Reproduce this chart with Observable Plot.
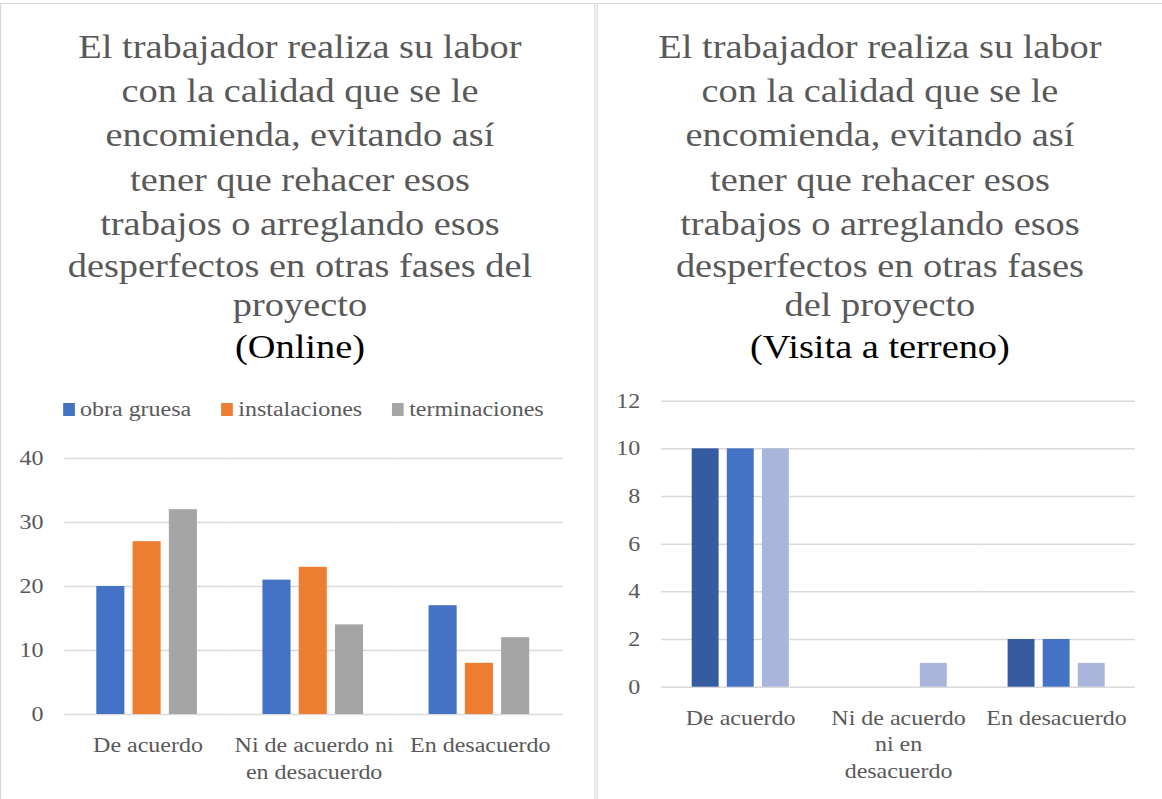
<!DOCTYPE html>
<html>
<head>
<meta charset="utf-8">
<script src="https://cdn.jsdelivr.net/npm/d3@7"></script>
<script src="https://cdn.jsdelivr.net/npm/@observablehq/plot@0.6"></script>
<style>
  html, body { margin: 0; padding: 0; background: #fff; overflow: hidden; }
  #wrap { position: relative; width: 993.2px; height: 799px; transform: scaleX(1.17); transform-origin: 0 0;
          font-family: "Liberation Serif", "Times New Roman", serif; }
  .panel { position: absolute; top: 2.6px; height: 830px; box-sizing: border-box;
           border: 1.6px solid #d9d9d9; border-bottom: none; }
  .tline { position: absolute; left: 0; right: 0; text-align: center; font-size: 32.8px; line-height: 32.8px;
           color: #595959; white-space: nowrap; }
  .tline.sub { color: #000; }
  .legend { position: absolute; font-size: 20.5px; line-height: 20.5px; color: #595959; white-space: nowrap; }
  .legend .item { display: inline-block; margin-right: 25.6px; }
  .legend .sw { display: inline-block; width: 10.3px; height: 12.7px; margin-right: 4.3px; vertical-align: baseline; }
  .chart { position: absolute; }
  .chart svg { overflow: visible; }
</style>
</head>
<body>
<div id="wrap">
  <div class="panel" style="left:0px; width:508.8px;"></div>
  <div class="panel" style="left:510px; width:500px;"></div>
  <div id="titleL" style="position:absolute; left:0; width:512.8px; top:0; height:400px;"></div>
  <div id="titleR" style="position:absolute; left:510.3px; width:483.6px; top:0; height:400px;"></div>
  <div id="legend" class="legend" style="left:53.8px; top:398.8px;"></div>
  <div id="chartL" class="chart" style="left:0px; top:440px;"></div>
  <div id="chartR" class="chart" style="left:510.3px; top:380px;"></div>
</div>
<script>
// ---- Data ----
const categories = ["De acuerdo", "Ni de acuerdo ni en desacuerdo", "En desacuerdo"];
const series = ["obra gruesa", "instalaciones", "terminaciones"];

// Online chart values (per category, in category order)
const onlineObraGruesa = [20, 21, 17];
const onlineInstalaciones = [27, 23, 8];
const onlineTerminaciones = [32, 14, 12];

// Visita a terreno chart values
const visitaObraGruesa = [10, 0, 2];
const visitaInstalaciones = [10, 0, 2];
const visitaTerminaciones = [10, 1, 1];

// Tick values
const onlineTicks = [0, 10, 20, 30, 40];
const visitaTicks = [0, 2, 4, 6, 8, 10, 12];

// Wrapped category labels as they appear under each chart
const onlineCategoryLabels = ["De acuerdo", "Ni de acuerdo ni\nen desacuerdo", "En desacuerdo"];
const visitaCategoryLabels = ["De acuerdo", "Ni de acuerdo\nni en\ndesacuerdo", "En desacuerdo"];

// Titles
const onlineTitleLines = [
  "El trabajador realiza su labor",
  "con la calidad que se le",
  "encomienda, evitando así",
  "tener que rehacer esos",
  "trabajos o arreglando esos",
  "desperfectos en otras fases del",
  "proyecto"
];
const onlineSubtitle = "(Online)";
const visitaTitleLines = [
  "El trabajador realiza su labor",
  "con la calidad que se le",
  "encomienda, evitando así",
  "tener que rehacer esos",
  "trabajos o arreglando esos",
  "desperfectos en otras fases",
  "del proyecto"
];
const visitaSubtitle = "(Visita a terreno)";

// Colors
const onlineColors = ["#4472c4", "#ed7d31", "#a5a5a5"];
const visitaColors = ["#355ca1", "#4472c4", "#a9b5da"];

// ---- Build tables ----
function table(cols) {
  return categories.flatMap((c, i) => series.map((s, j) => ({category: c, series: s, value: cols[j][i]})));
}
const onlineData = table([onlineObraGruesa, onlineInstalaciones, onlineTerminaciones]);
const visitaData = table([visitaObraGruesa, visitaInstalaciones, visitaTerminaciones]);

// ---- Titles ----
const baselines = [58.3, 102.5, 146.7, 191, 235.2, 277.5, 316, 358];
function drawTitle(el, lines, sub) {
  const all = lines.concat([sub]);
  all.forEach((t, i) => {
    const d = document.createElement("div");
    d.className = "tline" + (i === all.length - 1 ? " sub" : "");
    d.style.top = (baselines[i] - 27.47) + "px";
    d.textContent = t;
    el.appendChild(d);
  });
}
drawTitle(document.getElementById("titleL"), onlineTitleLines, onlineSubtitle);
drawTitle(document.getElementById("titleR"), visitaTitleLines, visitaSubtitle);

// ---- Legend ----
const leg = d3.select("#legend");
series.forEach((s, i) => {
  const it = leg.append("span").attr("class", "item");
  it.append("span").attr("class", "sw").style("background", onlineColors[i]);
  it.append("span").text(s);
});

// ---- Charts ----
const font = "'Liberation Serif', 'Times New Roman', serif";
function chart(o) {
  const labelMap = new Map(categories.map((c, i) => [c, o.labels[i]]));
  return Plot.plot({
    width: o.width, height: o.height,
    marginLeft: o.marginLeft, marginRight: o.marginRight,
    marginTop: o.marginTop, marginBottom: o.marginBottom,
    style: {fontFamily: font, fontSize: "20.5px", color: "#595959", background: "transparent", overflow: "visible"},
    fx: {domain: categories, paddingInner: 0, paddingOuter: 0, axis: null, label: null},
    x: {domain: series, paddingInner: o.padInner, paddingOuter: o.padOuter, axis: null},
    y: {domain: [0, o.yMax], axis: null},
    color: {domain: series, range: o.colors},
    marks: [
      Plot.ruleY(o.ticks, {stroke: "#d9d9d9", strokeWidth: 1.5}),
      Plot.barY(o.data, {fx: "category", x: "series", y: "value", fill: "series"}),
      Plot.axisY(o.ticks, {anchor: "left", tickSize: 0, tickPadding: 18.3, fontSize: 20.5, fill: "#595959", label: null}),
      Plot.axisFx({anchor: "bottom", tickSize: 0, tickPadding: 19, fontSize: 20.5, lineHeight: 1.29,
                   fill: "#595959", label: null, tickFormat: d => labelMap.get(d)})
    ]
  });
}

document.getElementById("chartL").appendChild(chart({
  data: onlineData, ticks: onlineTicks, yMax: 40, colors: onlineColors, labels: onlineCategoryLabels,
  width: 508, height: 359, marginLeft: 54.7, marginRight: 25.95, marginTop: 18, marginBottom: 85,
  padInner: 0.212, padOuter: 0.846
}));

document.getElementById("chartR").appendChild(chart({
  data: visitaData, ticks: visitaTicks, yMax: 12, colors: visitaColors, labels: visitaCategoryLabels,
  width: 482.9, height: 419, marginLeft: 53.8, marginRight: 22.3, marginTop: 20.7, marginBottom: 112.3,
  padInner: 0.225, padOuter: 0.847
}));
</script>
</body>
</html>
